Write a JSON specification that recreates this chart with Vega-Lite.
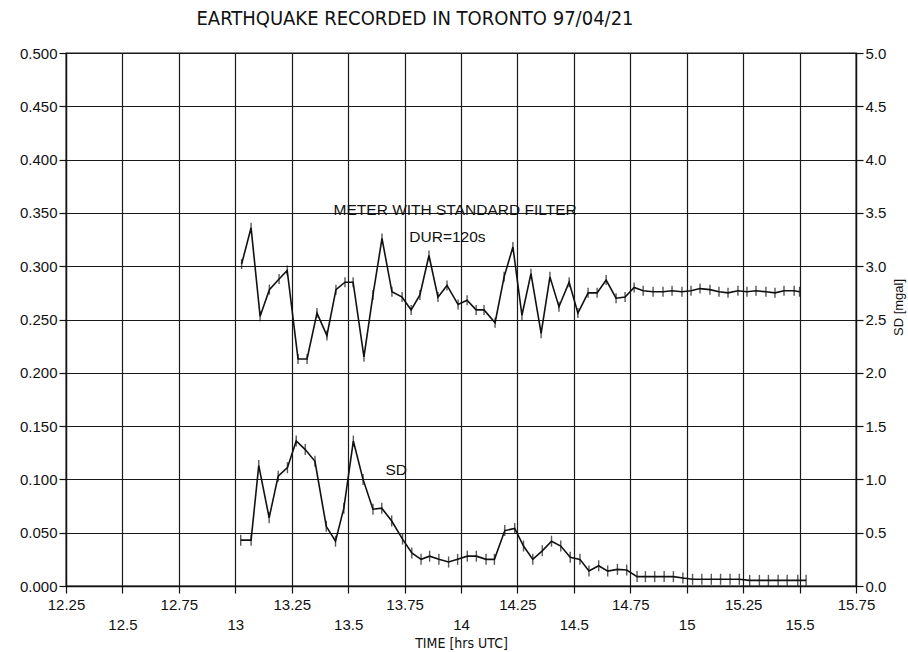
{
  "$schema": "https://vega.github.io/schema/vega-lite/v6.json",
  "width": 790,
  "height": 533,
  "autosize": {"type": "none"},
  "padding": {"left": 66, "top": 53, "right": 52, "bottom": 66},
  "background": "#ffffff",
  "title": {
    "text": "EARTHQUAKE RECORDED IN TORONTO 97/04/21",
    "font": "DejaVu Sans Condensed, Liberation Sans Narrow, sans-serif",
    "fontSize": 20,
    "fontWeight": "normal",
    "color": "#111111",
    "anchor": "middle",
    "dx": -46,
    "offset": 17
  },
  "config": {
    "view": {"stroke": "#111111", "strokeWidth": 1.3},
    "axis": {
      "domainColor": "#111111",
      "domainWidth": 1.3,
      "tickColor": "#111111",
      "tickWidth": 1.2,
      "labelColor": "#111111",
      "titleColor": "#111111",
      "gridColor": "#1a1a1a",
      "gridWidth": 1.2,
      "labelFont": "Liberation Sans",
      "labelFontSize": 15,
      "titleFont": "Liberation Sans",
      "titleFontSize": 13,
      "titleFontWeight": "normal"
    }
  },
  "datasets": {
    "meter": [
      {"t": 13.028, "v": 0.302}, {"t": 13.070, "v": 0.336}, {"t": 13.110, "v": 0.253},
      {"t": 13.151, "v": 0.278}, {"t": 13.194, "v": 0.288}, {"t": 13.230, "v": 0.296},
      {"t": 13.278, "v": 0.213}, {"t": 13.318, "v": 0.213}, {"t": 13.362, "v": 0.256},
      {"t": 13.406, "v": 0.235}, {"t": 13.446, "v": 0.278}, {"t": 13.486, "v": 0.285},
      {"t": 13.522, "v": 0.285}, {"t": 13.570, "v": 0.215}, {"t": 13.610, "v": 0.273},
      {"t": 13.650, "v": 0.326}, {"t": 13.694, "v": 0.276}, {"t": 13.739, "v": 0.271},
      {"t": 13.779, "v": 0.259}, {"t": 13.818, "v": 0.273}, {"t": 13.858, "v": 0.310},
      {"t": 13.898, "v": 0.271}, {"t": 13.938, "v": 0.282}, {"t": 13.987, "v": 0.264},
      {"t": 14.027, "v": 0.268}, {"t": 14.067, "v": 0.259}, {"t": 14.102, "v": 0.259},
      {"t": 14.151, "v": 0.247}, {"t": 14.191, "v": 0.290}, {"t": 14.230, "v": 0.318},
      {"t": 14.270, "v": 0.254}, {"t": 14.310, "v": 0.293}, {"t": 14.355, "v": 0.237},
      {"t": 14.394, "v": 0.290}, {"t": 14.434, "v": 0.262}, {"t": 14.479, "v": 0.285},
      {"t": 14.518, "v": 0.256}, {"t": 14.563, "v": 0.275}, {"t": 14.603, "v": 0.275},
      {"t": 14.643, "v": 0.287}, {"t": 14.687, "v": 0.270}, {"t": 14.727, "v": 0.271},
      {"t": 14.767, "v": 0.280}, {"t": 14.807, "v": 0.277}, {"t": 14.851, "v": 0.276},
      {"t": 14.895, "v": 0.276}, {"t": 14.935, "v": 0.277}, {"t": 14.979, "v": 0.276},
      {"t": 15.019, "v": 0.277}, {"t": 15.059, "v": 0.279}, {"t": 15.103, "v": 0.278},
      {"t": 15.143, "v": 0.276}, {"t": 15.183, "v": 0.275}, {"t": 15.227, "v": 0.277},
      {"t": 15.267, "v": 0.276}, {"t": 15.307, "v": 0.277}, {"t": 15.351, "v": 0.276},
      {"t": 15.391, "v": 0.275}, {"t": 15.431, "v": 0.277}, {"t": 15.476, "v": 0.277},
      {"t": 15.500, "v": 0.276}
    ],
    "sd": [
      {"t": 13.024, "s": 0.43}, {"t": 13.070, "s": 0.43}, {"t": 13.104, "s": 1.13},
      {"t": 13.150, "s": 0.64}, {"t": 13.190, "s": 1.03}, {"t": 13.231, "s": 1.11},
      {"t": 13.270, "s": 1.36}, {"t": 13.310, "s": 1.28}, {"t": 13.353, "s": 1.17},
      {"t": 13.403, "s": 0.56}, {"t": 13.444, "s": 0.42}, {"t": 13.481, "s": 0.73},
      {"t": 13.523, "s": 1.36}, {"t": 13.566, "s": 1.00}, {"t": 13.610, "s": 0.72},
      {"t": 13.649, "s": 0.73}, {"t": 13.693, "s": 0.61}, {"t": 13.741, "s": 0.44},
      {"t": 13.782, "s": 0.31}, {"t": 13.823, "s": 0.25}, {"t": 13.861, "s": 0.28},
      {"t": 13.902, "s": 0.25}, {"t": 13.945, "s": 0.225}, {"t": 13.985, "s": 0.25},
      {"t": 14.028, "s": 0.28}, {"t": 14.068, "s": 0.28}, {"t": 14.111, "s": 0.25},
      {"t": 14.148, "s": 0.25}, {"t": 14.194, "s": 0.52}, {"t": 14.238, "s": 0.54},
      {"t": 14.277, "s": 0.375}, {"t": 14.318, "s": 0.25}, {"t": 14.360, "s": 0.33},
      {"t": 14.401, "s": 0.42}, {"t": 14.442, "s": 0.375}, {"t": 14.484, "s": 0.27},
      {"t": 14.527, "s": 0.25}, {"t": 14.567, "s": 0.14}, {"t": 14.610, "s": 0.19},
      {"t": 14.650, "s": 0.14}, {"t": 14.693, "s": 0.156}, {"t": 14.734, "s": 0.15},
      {"t": 14.780, "s": 0.088}, {"t": 14.817, "s": 0.088}, {"t": 14.858, "s": 0.088},
      {"t": 14.900, "s": 0.088}, {"t": 14.941, "s": 0.088}, {"t": 14.983, "s": 0.075},
      {"t": 15.026, "s": 0.063}, {"t": 15.067, "s": 0.063}, {"t": 15.109, "s": 0.063},
      {"t": 15.150, "s": 0.063}, {"t": 15.192, "s": 0.063}, {"t": 15.233, "s": 0.063},
      {"t": 15.279, "s": 0.053}, {"t": 15.322, "s": 0.053}, {"t": 15.362, "s": 0.053},
      {"t": 15.405, "s": 0.053}, {"t": 15.445, "s": 0.053}, {"t": 15.492, "s": 0.053},
      {"t": 15.529, "s": 0.053}
    ],
    "notes": [
      {"t": 13.974, "v": 0.353, "label": "METER WITH STANDARD FILTER"},
      {"t": 13.940, "v": 0.327, "label": "DUR=120s"},
      {"t": 13.713, "v": 0.109, "label": "SD"}
    ]
  },
  "layer": [
    {
      "layer": [
        {
          "data": {"name": "meter"},
          "mark": {"type": "line", "color": "#111111", "strokeWidth": 1.6},
          "encoding": {
            "x": {
              "field": "t", "type": "quantitative",
              "scale": {"domain": [12.25, 15.75], "nice": false, "zero": false},
              "axis": {
                "values": [12.25, 12.5, 12.75, 13, 13.25, 13.5, 13.75, 14, 14.25, 14.5, 14.75, 15, 15.25, 15.5, 15.75],
                "labelExpr": "'' + datum.value",
                "labelPadding": {"condition": {"test": "(datum.value * 4) % 2 == 0", "value": 24}, "value": 4},
                "labelOverlap": false,
                "labelFlush": false,
                "tickSize": 7,
                "grid": true,
                "title": "TIME [hrs UTC]",
                "titleFont": "DejaVu Sans Condensed, Liberation Sans Narrow, sans-serif",
                "titleFontSize": 14,
                "titlePadding": 4
              }
            },
            "y": {
              "field": "v", "type": "quantitative",
              "scale": {"domain": [0, 0.5], "nice": false},
              "axis": {
                "values": [0, 0.05, 0.1, 0.15, 0.2, 0.25, 0.3, 0.35, 0.4, 0.45, 0.5],
                "format": ".3f",
                "tickSize": 7,
                "labelPadding": 2,
                "grid": true,
                "title": null
              }
            }
          }
        },
        {
          "data": {"name": "meter"},
          "mark": {"type": "tick", "orient": "vertical", "color": "#111111", "size": 10, "thickness": 1.4},
          "encoding": {
            "x": {"field": "t", "type": "quantitative"},
            "y": {"field": "v", "type": "quantitative"}
          }
        },
        {
          "data": {"name": "notes"},
          "mark": {"type": "text", "font": "Liberation Sans", "fontSize": 15.5, "color": "#111111", "align": "center", "baseline": "middle"},
          "encoding": {
            "x": {"field": "t", "type": "quantitative"},
            "y": {"field": "v", "type": "quantitative"},
            "text": {"field": "label"}
          }
        }
      ]
    },
    {
      "layer": [
        {
          "data": {"name": "sd"},
          "mark": {"type": "line", "color": "#111111", "strokeWidth": 1.6},
          "encoding": {
            "x": {"field": "t", "type": "quantitative"},
            "y": {
              "field": "s", "type": "quantitative",
              "scale": {"domain": [0, 5], "nice": false},
              "axis": {
                "orient": "right",
                "values": [0, 0.5, 1, 1.5, 2, 2.5, 3, 3.5, 4, 4.5, 5],
                "format": ".1f",
                "tickSize": 7,
                "labelPadding": 2,
                "grid": false,
                "title": "SD [mgal]",
                "titleAngle": 270,
                "titleAlign": "center",
                "titleBaseline": "middle",
                "titleX": 42,
                "titleY": 254
              }
            }
          }
        },
        {
          "data": {"name": "sd"},
          "mark": {"type": "tick", "orient": "vertical", "color": "#111111", "size": 11, "thickness": 1.4},
          "encoding": {
            "x": {"field": "t", "type": "quantitative"},
            "y": {"field": "s", "type": "quantitative"}
          }
        }
      ]
    }
  ],
  "resolve": {"scale": {"y": "independent"}}
}
